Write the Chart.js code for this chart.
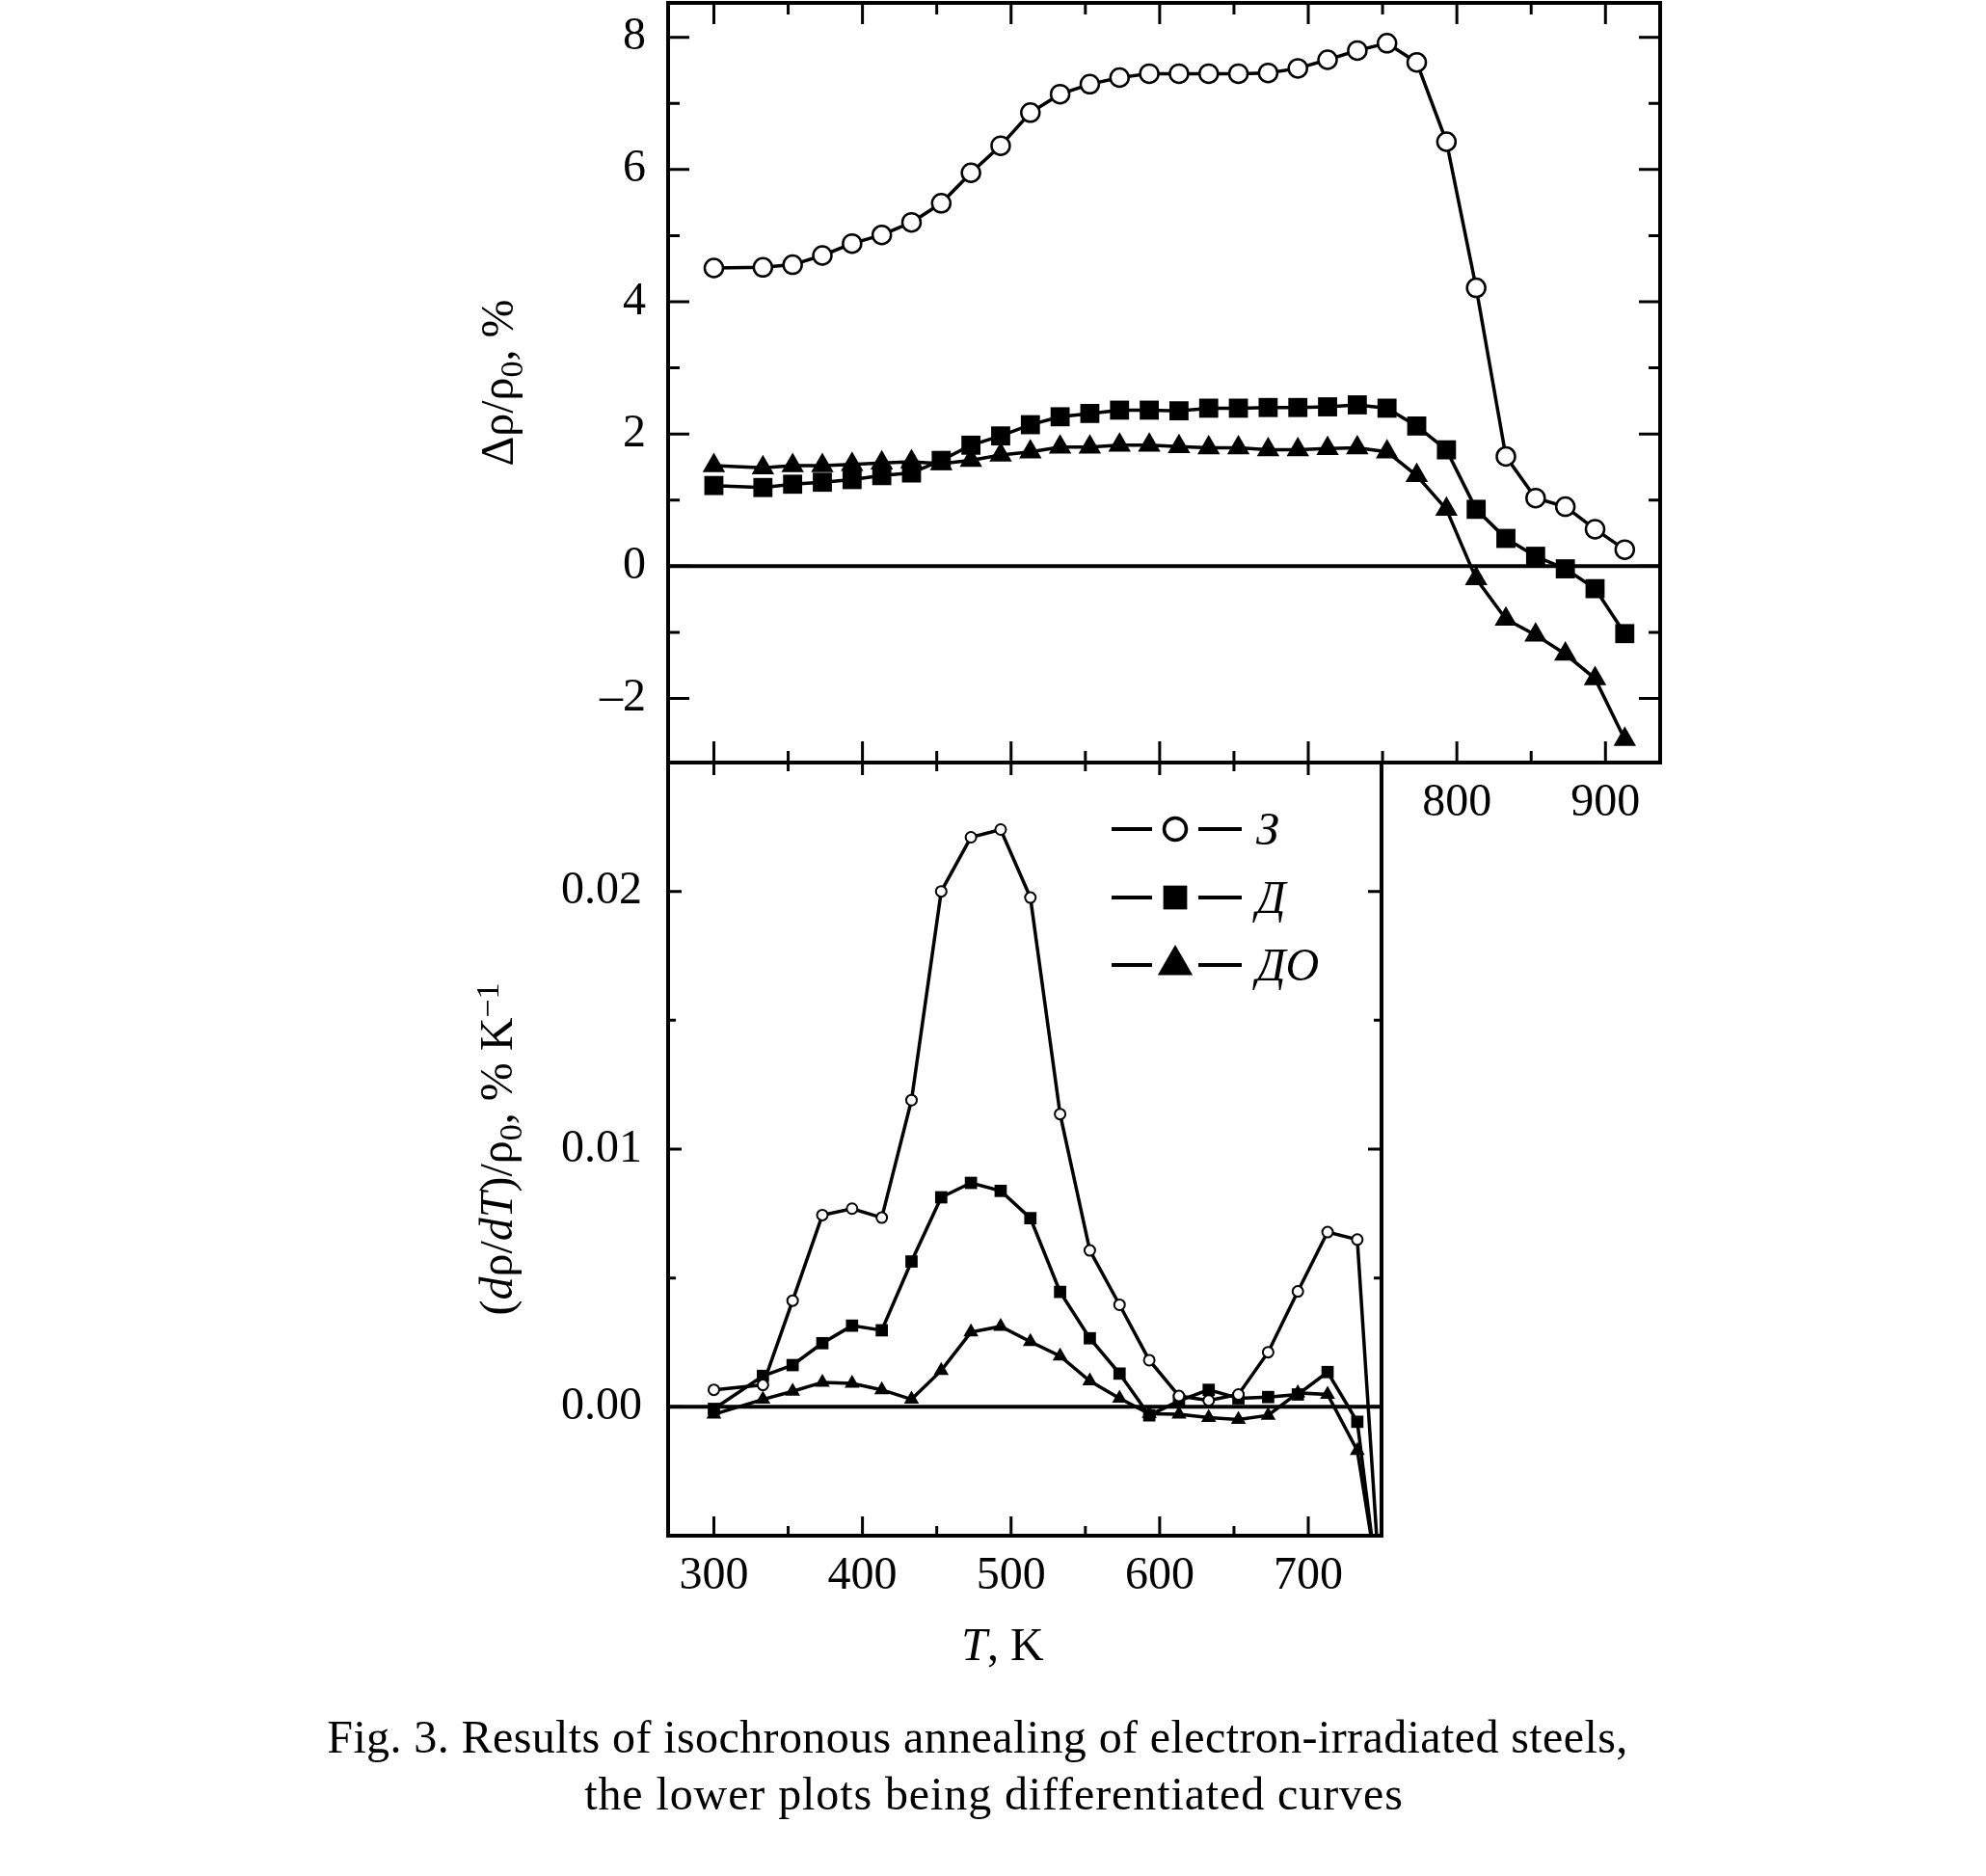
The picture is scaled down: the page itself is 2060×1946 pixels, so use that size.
<!DOCTYPE html>
<html>
<head>
<meta charset="utf-8">
<script src="https://cdn.jsdelivr.net/npm/chart.js@4.4.1/dist/chart.umd.min.js"></script>
<style>
  html, body { margin: 0; padding: 0; background: #fff; }
  #page { position: relative; width: 2060px; height: 1946px; overflow: hidden; background: #fff; }
  canvas { position: absolute; left: 0; top: 0; }
  .caption {
    position: absolute; white-space: nowrap; transform: translateX(-50%);
    font-family: 'Liberation Serif', 'Times New Roman', serif;
    font-size: 48px; line-height: 48px; color: #000;
  }
</style>
</head>
<body>
<div id="page">
  <canvas id="annealChart" width="2060" height="1946"></canvas>
  <canvas id="derivChart" width="2060" height="1946"></canvas>
  <div class="caption" style="left:1014px; top:1778px; letter-spacing:0.4px">Fig. 3. Results of isochronous annealing of electron-irradiated steels,</div>
  <div class="caption" style="left:1031px; top:1837px; letter-spacing:0.9px">the lower plots being differentiated curves</div>
</div>
<script>
// annealing temperatures, K
const tempK = [300, 333, 353, 373, 393, 413, 433, 453, 473, 493, 513, 533, 553, 573, 593, 613,
               633, 653, 673, 693, 713, 733, 753, 773, 793, 813, 833, 853, 873, 893, 913];

// Δρ/ρ0, %
const rhoZ  = [4.51, 4.52, 4.56, 4.70, 4.88, 5.01, 5.20, 5.49, 5.95, 6.36, 6.86, 7.14, 7.29, 7.39, 7.45, 7.45,
               7.45, 7.45, 7.46, 7.53, 7.66, 7.80, 7.91, 7.62, 6.42, 4.21, 1.66, 1.03, 0.90, 0.56, 0.25];
const rhoD  = [1.22, 1.19, 1.24, 1.27, 1.31, 1.37, 1.41, 1.60, 1.83, 1.97, 2.14, 2.26, 2.31, 2.36, 2.36, 2.35,
               2.39, 2.39, 2.40, 2.40, 2.41, 2.44, 2.39, 2.12, 1.76, 0.86, 0.42, 0.15, -0.04, -0.34, -1.02];
const rhoDO = [1.52, 1.49, 1.52, 1.52, 1.54, 1.56, 1.58, 1.55, 1.60, 1.68, 1.73, 1.80, 1.80, 1.83, 1.83, 1.81,
               1.79, 1.79, 1.76, 1.76, 1.78, 1.79, 1.73, 1.37, 0.86, -0.19, -0.80, -1.04, -1.33, -1.70, -2.62];

// differentiated curves, % per K
const tempDeriv = [300, 333, 353, 373, 393, 413, 433, 453, 473, 493, 513, 533,
                   553, 573, 593, 613, 633, 653, 673, 693, 713, 733, 753];
const derivZ  = [0.00066, 0.00085, 0.00412, 0.00744, 0.00769, 0.00734, 0.0119, 0.0200, 0.0221, 0.0224, 0.01976, 0.01136,
                 0.00607, 0.00396, 0.00181, 0.00042, 0.00025, 0.00048, 0.00212, 0.00448, 0.00678, 0.00649, -0.0112];
const derivD  = [-0.00008, 0.0012, 0.00162, 0.00247, 0.00315, 0.00297, 0.00564, 0.00813, 0.00869, 0.00838, 0.00732, 0.00446,
                 0.00266, 0.00129, -0.00033, 0.00023, 0.00066, 0.00033, 0.00038, 0.00048, 0.00135, -0.00058, -0.0098];
const derivDO = [-0.00029, 0.00029, 0.0006, 0.00095, 0.00091, 0.00066, 0.00029, 0.00141, 0.0029, 0.00312, 0.00253, 0.00197,
                 0.0010, 0.00033, -0.00027, -0.00029, -0.00042, -0.00049, -0.00033, 0.00054, 0.00048, -0.0017, -0.0089];

const seriesNames = ['З', 'Д', 'ДО'];

// tick labels and tick marks
const topXLabels = [800, 900];
const topYLabels = [-2, 0, 2, 4, 6, 8];
const bottomXLabels = [300, 400, 500, 600, 700];
const bottomYLabels = [0, 0.01, 0.02];
const topXMarks = [300, 350, 400, 450, 500, 550, 600, 650, 700, 750, 800, 850, 900];
const topYMarks = [-2, -1, 0, 1, 2, 3, 4, 5, 6, 7, 8];
const bottomXMarks = [300, 350, 400, 450, 500, 550, 600, 650, 700];
const bottomYMarks = [0, 0.005, 0.01, 0.015, 0.02];

const SERIF = "'Liberation Serif', 'Times New Roman', serif";
Chart.defaults.font.family = SERIF;
Chart.defaults.color = '#000';
Chart.defaults.animation = false;

function pts(xs, ys) {
    return xs.map((x, i) => ({ x: x, y: ys[i] }));
}

function segFont(s, size) {
    const small = s.sub || s.sup;
    return (s.italic ? 'italic ' : '') + Math.round(small ? size * 0.7 : size) + 'px ' + SERIF;
}
function richWidth(ctx, segs, size) {
    let w = 0;
    segs.forEach(s => { ctx.font = segFont(s, size); w += ctx.measureText(s.t).width; });
    return w;
}
function drawRich(ctx, segs, size, x, y) {
    segs.forEach(s => {
        ctx.font = segFont(s, size);
        const dy = s.sub ? size * 0.2 : (s.sup ? -size * 0.3 : 0);
        ctx.fillText(s.t, x, y + dy);
        x += ctx.measureText(s.t).width;
    });
}

function dot(ctx, style, r, bw, fill, x, y) {
    ctx.save();
    ctx.lineWidth = bw;
    ctx.strokeStyle = '#000';
    ctx.fillStyle = fill;
    Chart.helpers.drawPoint(ctx, { pointStyle: style, radius: r, borderWidth: bw, rotation: 0 }, x, y);
    ctx.restore();
}

// axis boxes: fixed sizes so the plot frames land where the figure has them
function fixY(width) {
    return axis => { axis.width = width; axis.paddingTop = 0; axis.paddingBottom = 0; };
}
function fixX(height) {
    return axis => { axis.height = height; axis.paddingLeft = 0; axis.paddingRight = 0; };
}

// frame, inward ticks, zero line, axis titles, legend
function makeFrame(cfg) {
    return {
        id: 'frame',
        beforeDatasetsDraw(chart) {
            const { ctx, chartArea: a, scales } = chart;
            const y0 = scales.y.getPixelForValue(0);
            ctx.save();
            ctx.strokeStyle = '#000';
            ctx.lineWidth = 4;
            ctx.beginPath();
            ctx.moveTo(a.left, y0);
            ctx.lineTo(a.right, y0);
            ctx.stroke();
            ctx.restore();
        },
        afterDatasetsDraw(chart) {
            const { ctx, chartArea: a, scales } = chart;
            ctx.save();
            ctx.strokeStyle = '#000';
            ctx.lineWidth = 3;
            ctx.beginPath();
            cfg.xMarks.forEach(v => {
                const px = scales.x.getPixelForValue(v);
                const k = cfg.majorX(v) ? 0 : 1;
                ctx.moveTo(px, a.bottom); ctx.lineTo(px, a.bottom - cfg.bottomLen[k]);
                ctx.moveTo(px, a.top); ctx.lineTo(px, a.top + cfg.topLen[k]);
            });
            cfg.yMarks.forEach(v => {
                const py = scales.y.getPixelForValue(v);
                const k = cfg.majorY(v) ? 0 : 1;
                ctx.moveTo(a.left, py); ctx.lineTo(a.left + cfg.sideLen[k], py);
                ctx.moveTo(a.right, py); ctx.lineTo(a.right - cfg.sideLen[k], py);
            });
            ctx.stroke();
            ctx.lineWidth = 4;
            ctx.strokeRect(a.left, a.top, a.right - a.left, a.bottom - a.top);
            ctx.restore();
        },
        afterDraw(chart) {
            const { ctx, chartArea: a } = chart;
            ctx.save();
            ctx.fillStyle = '#000';
            ctx.textAlign = 'left';
            ctx.textBaseline = 'alphabetic';
            // rotated y title, centred on the axis
            const yc = (a.top + a.bottom) / 2;
            ctx.save();
            ctx.translate(cfg.yTitleX, yc);
            ctx.rotate(-Math.PI / 2);
            const w = richWidth(ctx, cfg.yTitle, 48);
            drawRich(ctx, cfg.yTitle, 48, -w / 2, 0);
            ctx.restore();
            if (cfg.xTitle) {
                const wx = richWidth(ctx, cfg.xTitle, 48);
                drawRich(ctx, cfg.xTitle, 48, cfg.xTitleX - wx / 2, cfg.xTitleY);
            }
            if (cfg.legend) {
                cfg.legend.forEach((it, i) => {
                    const ry = a.top + cfg.legendRows[i];
                    const x0 = a.left + 460;
                    ctx.strokeStyle = '#000';
                    ctx.lineWidth = 4;
                    ctx.beginPath();
                    ctx.moveTo(x0, ry); ctx.lineTo(x0 + 42, ry);
                    ctx.moveTo(x0 + 90, ry); ctx.lineTo(x0 + 135, ry);
                    ctx.stroke();
                    dot(ctx, it.style, it.r, it.bw, it.fill, x0 + 66, ry);
                    ctx.fillStyle = '#000';
                    ctx.font = 'italic 48px ' + SERIF;
                    ctx.fillText(it.name, x0 + 150, ry + 16);
                });
            }
            ctx.restore();
        }
    };
}

const tickFont = { family: SERIF, size: 48, lineHeight: 1.2 };
const noGrid = { display: false, drawTicks: false };

// upper plot: Δρ/ρ0
new Chart(document.getElementById('annealChart'), {
    type: 'line',
    data: {
        datasets: [
            {
                label: seriesNames[0], data: pts(tempK, rhoZ),
                borderColor: '#000', borderWidth: 3.5, tension: 0, fill: false,
                pointStyle: 'circle', pointRadius: 9.5, pointBorderWidth: 2.5,
                pointBackgroundColor: '#fff', pointBorderColor: '#000', order: 1
            },
            {
                label: seriesNames[1], data: pts(tempK, rhoD),
                borderColor: '#000', borderWidth: 3.5, tension: 0, fill: false,
                pointStyle: 'rect', pointRadius: 14, pointBorderWidth: 0,
                pointBackgroundColor: '#000', pointBorderColor: '#000', order: 3
            },
            {
                label: seriesNames[2], data: pts(tempK, rhoDO),
                borderColor: '#000', borderWidth: 3.5, tension: 0, fill: false,
                pointStyle: 'triangle', pointRadius: 13.5, pointBorderWidth: 0,
                pointBackgroundColor: '#000', pointBorderColor: '#000', order: 2
            }
        ]
    },
    options: {
        responsive: false,
        animation: false,
        layout: { autoPadding: false, padding: { left: 0, right: 338, top: 3, bottom: 0 } },
        plugins: { legend: { display: false }, tooltip: { enabled: false } },
        scales: {
            x: {
                type: 'linear', min: 269.2, max: 936.8,
                grid: noGrid, border: { display: false },
                ticks: { font: tickFont, color: '#000', padding: 14, maxRotation: 0, autoSkip: false },
                afterBuildTicks: axis => { axis.ticks = topXLabels.map(v => ({ value: v })); },
                afterFit: fixX(1155)
            },
            y: {
                type: 'linear', min: -2.97, max: 8.52,
                grid: noGrid, border: { display: false },
                ticks: {
                    font: tickFont, color: '#000', padding: 23,
                    callback: v => (v < 0 ? '\u2013' + Math.abs(v) : String(v))
                },
                afterBuildTicks: axis => { axis.ticks = topYLabels.map(v => ({ value: v })); },
                afterFit: fixY(693)
            }
        }
    },
    plugins: [makeFrame({
        xMarks: topXMarks, yMarks: topYMarks,
        majorX: v => v % 100 === 0, majorY: v => v % 2 === 0,
        bottomLen: [22, 12], topLen: [22, 12], sideLen: [22, 12],
        yTitleX: 532,
        yTitle: [{ t: 'Δρ/ρ' }, { t: '0', sub: true }, { t: ', %' }]
    })]
});

// lower plot: differentiated curves
new Chart(document.getElementById('derivChart'), {
    type: 'line',
    data: {
        datasets: [
            {
                label: seriesNames[0], data: pts(tempDeriv, derivZ),
                borderColor: '#000', borderWidth: 3.5, tension: 0, fill: false,
                pointStyle: 'circle', pointRadius: 5.5, pointBorderWidth: 2,
                pointBackgroundColor: '#fff', pointBorderColor: '#000', order: 1
            },
            {
                label: seriesNames[1], data: pts(tempDeriv, derivD),
                borderColor: '#000', borderWidth: 3.5, tension: 0, fill: false,
                pointStyle: 'rect', pointRadius: 9, pointBorderWidth: 0,
                pointBackgroundColor: '#000', pointBorderColor: '#000', order: 2
            },
            {
                label: seriesNames[2], data: pts(tempDeriv, derivDO),
                borderColor: '#000', borderWidth: 3.5, tension: 0, fill: false,
                pointStyle: 'triangle', pointRadius: 9, pointBorderWidth: 0,
                pointBackgroundColor: '#000', pointBorderColor: '#000', order: 3
            }
        ]
    },
    options: {
        responsive: false,
        animation: false,
        layout: { autoPadding: false, padding: { left: 0, right: 627, top: 791, bottom: 0 } },
        plugins: { legend: { display: false }, tooltip: { enabled: false } },
        scales: {
            x: {
                type: 'linear', min: 269.2, max: 749.3,
                grid: noGrid, border: { display: false },
                ticks: { font: tickFont, color: '#000', padding: 14, maxRotation: 0, autoSkip: false },
                afterBuildTicks: axis => { axis.ticks = bottomXLabels.map(v => ({ value: v })); },
                afterFit: fixX(353)
            },
            y: {
                type: 'linear', min: -0.005, max: 0.025,
                grid: noGrid, border: { display: false },
                ticks: { font: tickFont, color: '#000', padding: 27, callback: v => v.toFixed(2) },
                afterBuildTicks: axis => { axis.ticks = bottomYLabels.map(v => ({ value: v })); },
                afterFit: fixY(693)
            }
        }
    },
    plugins: [makeFrame({
        xMarks: bottomXMarks, yMarks: bottomYMarks,
        majorX: v => v % 100 === 0, majorY: v => Math.abs(v * 100 - Math.round(v * 100)) < 1e-9,
        bottomLen: [20, 10], topLen: [13, 9], sideLen: [14, 8],
        yTitleX: 531,
        yTitle: [{ t: '(' }, { t: 'd', italic: true }, { t: 'ρ/' }, { t: 'dT', italic: true }, { t: ')/ρ' },
                 { t: '0', sub: true }, { t: ', % K' }, { t: '\u22121', sup: true }],
        xTitle: [{ t: 'T', italic: true }, { t: ', K' }],
        xTitleX: 1040, xTitleY: 1722,
        legendRows: [69, 140, 210],
        legend: [
            { name: seriesNames[0], style: 'circle', r: 11.5, bw: 3.5, fill: '#fff' },
            { name: seriesNames[1], style: 'rect', r: 17.5, bw: 0, fill: '#000' },
            { name: seriesNames[2], style: 'triangle', r: 21, bw: 0, fill: '#000' }
        ]
    })]
});
</script>
</body>
</html>
